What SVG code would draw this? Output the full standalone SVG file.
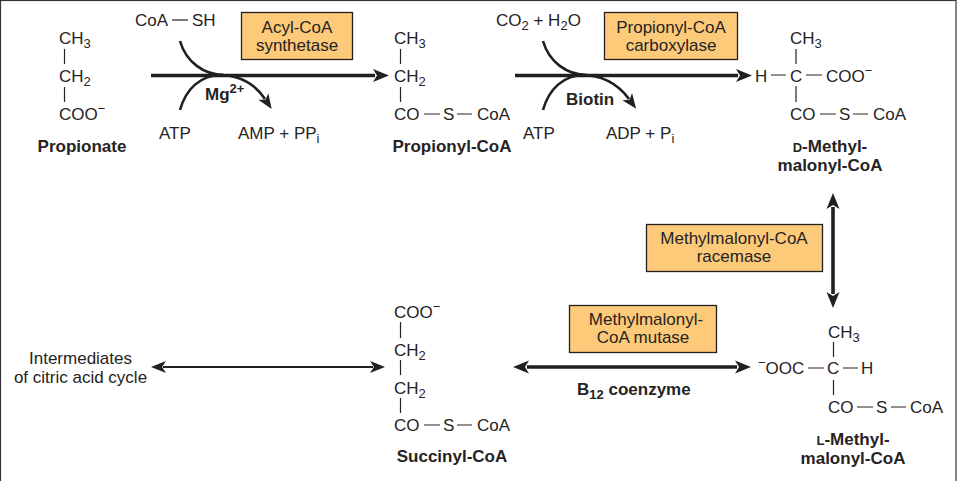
<svg xmlns="http://www.w3.org/2000/svg" width="957" height="481" viewBox="0 0 957 481">
<style>
text{font-family:"Liberation Sans",Arial,sans-serif;font-size:17px;fill:#262324}
.b{font-weight:bold}
.m{text-anchor:middle}
.s{font-size:13px}
.bond{stroke:#262324;stroke-width:1.2;fill:none}
.box{fill:#fcca78;stroke:#231f20;stroke-width:1.3}
.main{stroke:#231f20;stroke-width:3.6;fill:none}
.cur{stroke:#231f20;stroke-width:2.6;fill:none}
.thin{stroke:#231f20;stroke-width:2;fill:none}
</style>
<defs>
<marker id="ah" markerUnits="userSpaceOnUse" markerWidth="24" markerHeight="20" refX="12" refY="10" orient="auto-start-reverse" overflow="visible"><path d="M26,10L10,3.5L14,10L10,16.500Z" fill="#231f20"/></marker>
<marker id="as" markerUnits="userSpaceOnUse" markerWidth="24" markerHeight="20" refX="12" refY="10" orient="auto-start-reverse" overflow="visible"><path d="M24,10L9,4L13,10L9,16Z" fill="#231f20"/></marker>
</defs>
<rect id="frame" x="0.500" y="0.500" width="955.500" height="490" fill="#fff" stroke="#333" stroke-width="1.200"/>
<g id="connectors">
<path class="main" d="M151,75.500H375" marker-end="url(#ah)"/>
<path class="main" d="M515,75.500H738" marker-end="url(#ah)"/>
<path class="cur" d="M180,41C186,62 204,75 224,75"/>
<path class="cur" d="M180,110C186,89 200,75 222,75"/>
<path class="cur" d="M218,75C240,75 255,84 265,99" marker-end="url(#as)"/>
<path class="cur" d="M543,41C549,62 567,75 587,75"/>
<path class="cur" d="M543,110C549,89 563,75 585,75"/>
<path class="cur" d="M581,75C603,75 618,84 629,99" marker-end="url(#as)"/>
<path class="main" d="M833,207V294" marker-start="url(#ah)" marker-end="url(#ah)"/>
<path class="main" d="M527,367H737" marker-start="url(#ah)" marker-end="url(#ah)"/>
<path class="thin" d="M163,367H373" marker-start="url(#as)" marker-end="url(#as)"/>
</g>
<g id="propionate">
<text x="59" y="44">CH<tspan class="s" dy="4">3</tspan></text>
<path class="bond" d="M64.500,49V64M64.500,87V102"/>
<text x="59" y="82">CH<tspan class="s" dy="4">2</tspan></text>
<text x="59" y="120">COO<tspan class="s" dy="-7">−</tspan></text>
<text class="b m" x="82" y="152">Propionate</text>
</g>
<g id="coa-sh">
<text x="135" y="26">CoA</text><path class="bond" d="M172,20H188"/><text x="192" y="26">SH</text>
</g>
<g id="acyl-coa-synthetase">
<rect class="box" x="241.500" y="12.500" width="111" height="47"/>
<text class="m" x="297" y="33">Acyl-CoA</text><text class="m" x="297" y="51">synthetase</text>
</g>
<g id="mg"><text class="b" x="205" y="100">Mg<tspan class="s" dy="-7">2+</tspan></text></g>
<g id="atp1"><text x="159" y="139">ATP</text></g>
<g id="amp"><text x="238" y="139">AMP + PP<tspan class="s" dy="4">i</tspan></text></g>
<g id="propionyl-coa">
<text x="394" y="44">CH<tspan class="s" dy="4">3</tspan></text>
<path class="bond" d="M400.500,49V64M400.500,87V102"/>
<text x="394" y="82">CH<tspan class="s" dy="4">2</tspan></text>
<text x="394" y="120">CO</text><path class="bond" d="M424,114H440M457,114H472"/>
<text x="443" y="120">S</text><text x="477" y="120">CoA</text>
<text class="b m" x="452" y="152">Propionyl-CoA</text>
</g>
<g id="co2-h2o"><text x="496" y="26">CO<tspan class="s" dy="4">2</tspan><tspan dy="-4"> + H</tspan><tspan class="s" dy="4">2</tspan><tspan dy="-4">O</tspan></text></g>
<g id="propionyl-coa-carboxylase">
<rect class="box" x="604.500" y="12.500" width="133" height="47"/>
<text class="m" x="671" y="33">Propionyl-CoA</text><text class="m" x="671" y="51">carboxylase</text>
</g>
<g id="biotin"><text class="b" x="566" y="105">Biotin</text></g>
<g id="atp2"><text x="523" y="139">ATP</text></g>
<g id="adp"><text x="606" y="139">ADP + P<tspan class="s" dy="4">i</tspan></text></g>
<g id="d-methylmalonyl-coa">
<text x="790" y="44">CH<tspan class="s" dy="4">3</tspan></text>
<path class="bond" d="M796,49V64M796,86V102M771,75H786M806,75H822"/>
<text x="755" y="82">H</text><text x="790" y="82">C</text>
<text x="826" y="82">COO<tspan class="s" dy="-7">−</tspan></text>
<text x="790" y="120">CO</text><path class="bond" d="M820,114H836M853,114H868"/>
<text x="839" y="120">S</text><text x="873" y="120">CoA</text>
<text class="b m" x="830" y="152"><tspan class="s">D</tspan>-Methyl-</text>
<text class="b m" x="830" y="171">malonyl-CoA</text>
</g>
<g id="racemase">
<rect class="box" x="646.500" y="224.500" width="176" height="47"/>
<text class="m" x="734" y="244">Methylmalonyl-CoA</text><text class="m" x="734" y="262">racemase</text>
</g>
<g id="mutase">
<rect class="box" x="569.500" y="305.500" width="147" height="47"/>
<text class="m" x="646" y="325">Methylmalonyl-</text><text class="m" x="643" y="343">CoA mutase</text>
</g>
<g id="b12"><text class="b" x="577" y="395">B<tspan class="s" dy="4">12</tspan><tspan dy="-4"> coenzyme</tspan></text></g>
<g id="l-methylmalonyl-coa">
<text x="828" y="338">CH<tspan class="s" dy="4">3</tspan></text>
<path class="bond" d="M833.500,342V357M833.500,380V395M808,368H824M843,368H858"/>
<text x="758" y="374"><tspan class="s" dy="-7">−</tspan><tspan dy="7">OOC</tspan></text>
<text x="827" y="374">C</text><text x="861" y="374">H</text>
<text x="828" y="413">CO</text><path class="bond" d="M857,407H873M891,407H906"/>
<text x="876" y="413">S</text><text x="910" y="413">CoA</text>
<text class="b m" x="853" y="445"><tspan class="s">L</tspan>-Methyl-</text>
<text class="b m" x="853" y="464">malonyl-CoA</text>
</g>
<g id="succinyl-coa">
<text x="394" y="318">COO<tspan class="s" dy="-7">−</tspan></text>
<path class="bond" d="M400.500,322V338M400.500,360V375M400.500,398V413"/>
<text x="394" y="356">CH<tspan class="s" dy="4">2</tspan></text>
<text x="394" y="394">CH<tspan class="s" dy="4">2</tspan></text>
<text x="394" y="431">CO</text><path class="bond" d="M424,425H440M457,425H472"/>
<text x="443" y="431">S</text><text x="477" y="431">CoA</text>
<text class="b m" x="452" y="462">Succinyl-CoA</text>
</g>
<g id="intermediates">
<text class="m" x="80.500" y="364">Intermediates</text><text class="m" x="80.500" y="383">of citric acid cycle</text>
</g>
</svg>
